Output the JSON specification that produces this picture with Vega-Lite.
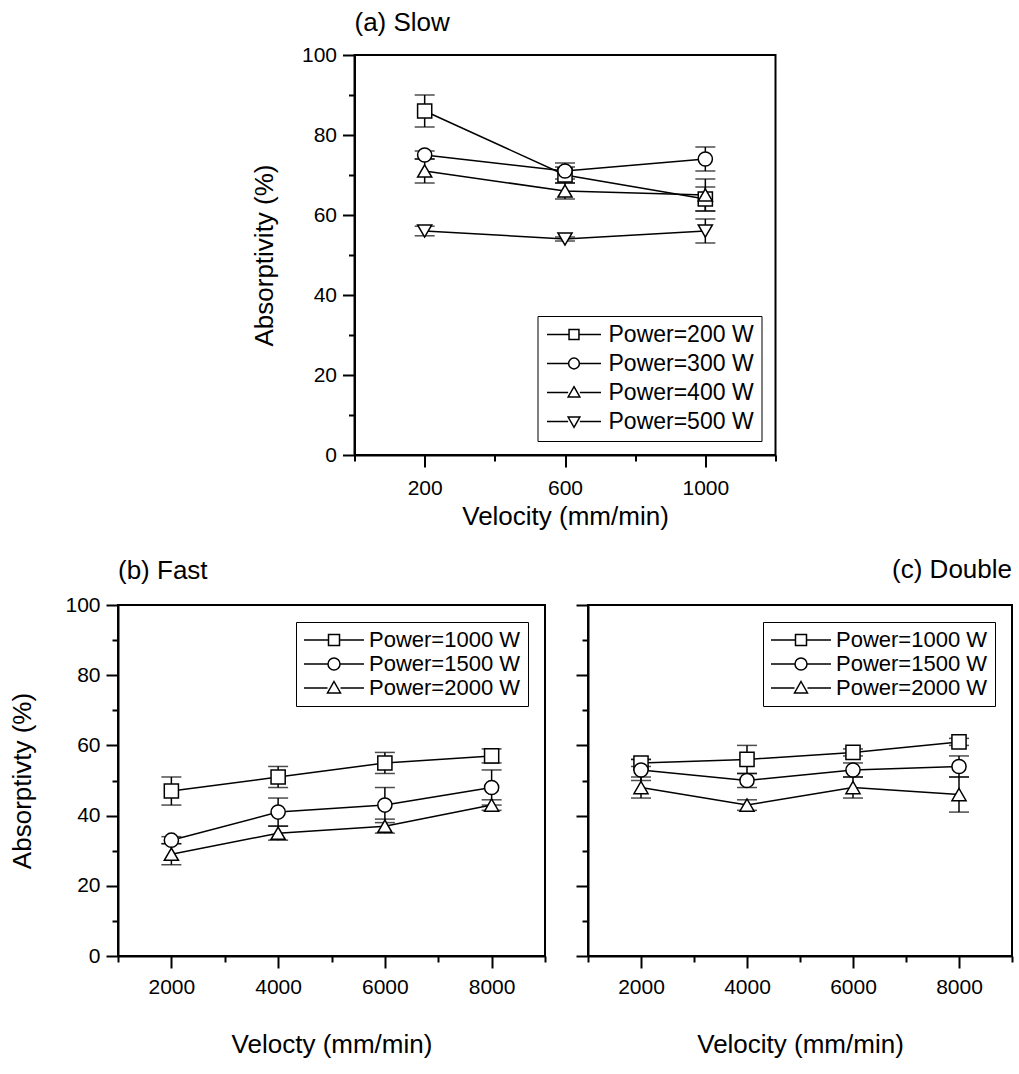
{
  "$schema": "https://vega.github.io/schema/vega-lite/v6.json",
  "background": "white",
  "padding": {"left": 8, "top": 9, "right": 5, "bottom": 5},
  "config": {
    "font": "Liberation Sans",
    "view": {"stroke": "black", "strokeWidth": 2},
    "mark": {"color": "black"},
    "axis": {"domainColor": "black", "domainWidth": 2, "tickColor": "black", "tickWidth": 2, "labelColor": "black", "titleColor": "black", "labelFontSize": 21, "titleFontSize": 26, "titleFontWeight": "normal", "grid": false, "labelFont": "Liberation Sans", "titleFont": "Liberation Sans", "format": "d"},
    "title": {"fontSize": 26, "fontWeight": "normal", "color": "black", "font": "Liberation Sans"},
    "legend": {"strokeColor": "black", "fillColor": "white", "labelColor": "black", "labelFont": "Liberation Sans", "symbolOpacity": 1, "symbolFillColor": "white", "symbolStrokeColor": "black", "symbolStrokeWidth": 1.5}
  },
  "datasets": {
    "slow": [
      {"series": "Power=200 W", "velocity": 200, "absorptivity": 86, "error": 4},
      {"series": "Power=200 W", "velocity": 600, "absorptivity": 70, "error": 2},
      {"series": "Power=200 W", "velocity": 1000, "absorptivity": 64, "error": 3},
      {"series": "Power=300 W", "velocity": 200, "absorptivity": 75, "error": 1},
      {"series": "Power=300 W", "velocity": 600, "absorptivity": 71, "error": 2},
      {"series": "Power=300 W", "velocity": 1000, "absorptivity": 74, "error": 3},
      {"series": "Power=400 W", "velocity": 200, "absorptivity": 71, "error": 3},
      {"series": "Power=400 W", "velocity": 600, "absorptivity": 66, "error": 2},
      {"series": "Power=400 W", "velocity": 1000, "absorptivity": 65, "error": 4},
      {"series": "Power=500 W", "velocity": 200, "absorptivity": 56, "error": 1.2},
      {"series": "Power=500 W", "velocity": 600, "absorptivity": 54, "error": 0.5},
      {"series": "Power=500 W", "velocity": 1000, "absorptivity": 56, "error": 3}
    ],
    "fast": [
      {"series": "Power=1000 W", "velocity": 2000, "absorptivity": 47, "error": 4},
      {"series": "Power=1000 W", "velocity": 4000, "absorptivity": 51, "error": 3},
      {"series": "Power=1000 W", "velocity": 6000, "absorptivity": 55, "error": 3},
      {"series": "Power=1000 W", "velocity": 8000, "absorptivity": 57, "error": 2},
      {"series": "Power=1500 W", "velocity": 2000, "absorptivity": 33, "error": 1},
      {"series": "Power=1500 W", "velocity": 4000, "absorptivity": 41, "error": 4},
      {"series": "Power=1500 W", "velocity": 6000, "absorptivity": 43, "error": 5},
      {"series": "Power=1500 W", "velocity": 8000, "absorptivity": 48, "error": 5},
      {"series": "Power=2000 W", "velocity": 2000, "absorptivity": 29, "error": 3},
      {"series": "Power=2000 W", "velocity": 4000, "absorptivity": 35, "error": 2},
      {"series": "Power=2000 W", "velocity": 6000, "absorptivity": 37, "error": 2},
      {"series": "Power=2000 W", "velocity": 8000, "absorptivity": 43, "error": 1.5}
    ],
    "double": [
      {"series": "Power=1000 W", "velocity": 2000, "absorptivity": 55, "error": 1},
      {"series": "Power=1000 W", "velocity": 4000, "absorptivity": 56, "error": 4},
      {"series": "Power=1000 W", "velocity": 6000, "absorptivity": 58, "error": 1},
      {"series": "Power=1000 W", "velocity": 8000, "absorptivity": 61, "error": 1},
      {"series": "Power=1500 W", "velocity": 2000, "absorptivity": 53, "error": 3},
      {"series": "Power=1500 W", "velocity": 4000, "absorptivity": 50, "error": 2},
      {"series": "Power=1500 W", "velocity": 6000, "absorptivity": 53, "error": 2},
      {"series": "Power=1500 W", "velocity": 8000, "absorptivity": 54, "error": 3},
      {"series": "Power=2000 W", "velocity": 2000, "absorptivity": 48, "error": 3},
      {"series": "Power=2000 W", "velocity": 4000, "absorptivity": 43, "error": 1.5},
      {"series": "Power=2000 W", "velocity": 6000, "absorptivity": 48, "error": 3},
      {"series": "Power=2000 W", "velocity": 8000, "absorptivity": 46, "error": 5}
    ]
  },
  "center": true,
  "spacing": 26,
  "resolve": {"scale": {"shape": "independent"}, "legend": {"shape": "independent"}},
  "vconcat": [
    {
      "title": {"text": "(a) Slow", "anchor": "start", "frame": "group", "offset": 8},
      "width": 421,
      "height": 400,
      "data": {"name": "slow"},
      "encoding": {
        "x": {"field": "velocity", "type": "quantitative", "scale": {"domain": [0, 1200], "nice": false, "zero": false},
          "axis": {"title": "Velocity (mm/min)", "values": [0, 200, 400, 600, 800, 1000, 1200], "labelExpr": "datum.value % 400 === 200 ? datum.label : ''", "tickSize": {"condition": {"test": "datum.value % 400 !== 200", "value": 6}, "value": 12}, "labelPadding": 10, "titlePadding": 5}},
        "y": {"field": "absorptivity", "type": "quantitative", "scale": {"domain": [0, 100], "nice": false},
          "axis": {"title": "Absorptivity (%)", "values": [0, 10, 20, 30, 40, 50, 60, 70, 80, 90, 100], "labelExpr": "datum.value % 20 === 0 ? datum.label : ''", "tickSize": {"condition": {"test": "datum.value % 20 !== 0", "value": 6}, "value": 12}, "labelPadding": 6, "titlePadding": 24}}
      },
      "layer": [
        {"mark": {"type": "errorbar", "ticks": {"size": 20, "thickness": 1.5, "color": "black"}, "rule": {"strokeWidth": 1.5, "color": "black"}},
         "encoding": {"yError": {"field": "error"}, "detail": {"field": "series"}}},
        {"mark": {"type": "line", "color": "black", "strokeWidth": 1.5},
         "encoding": {"detail": {"field": "series"}}},
        {"mark": {"type": "point", "filled": false, "fill": "white", "stroke": "black", "strokeWidth": 1.5, "size": 200, "opacity": 1},
         "encoding": {"shape": {"field": "series", "type": "nominal", "legend": null,
           "scale": {"domain": ["Power=200 W", "Power=300 W", "Power=400 W", "Power=500 W"], "range": ["square", "circle", "triangle-up", "triangle-down"]}}}},
        {"mark": {"type": "point", "filled": false, "stroke": "black", "strokeWidth": 1.5, "size": 324, "opacity": 0},
         "encoding": {"shape": {"field": "series", "type": "nominal",
           "scale": {"domain": ["Power=200 W", "Power=300 W", "Power=400 W", "Power=500 W"], "range": ["M-1,0H1.45M2.55,0H5M1.45,-0.55H2.55V0.55H1.45Z", "M-1,0H1.4M2.6,0H5M1.4,0A0.6,0.6 0 1,0 2.6,0A0.6,0.6 0 1,0 1.4,0Z", "M-1,0H1.35M2.65,0H5M2,-0.65L2.65,0.5H1.35Z", "M-1,0H1.35M2.65,0H5M2,0.65L2.65,-0.5H1.35Z"]},
           "legend": {"title": null, "orient": "bottom-right", "offset": 14, "padding": 7, "labelFontSize": 23, "labelOffset": 41, "symbolSize": 324, "rowPadding": 5}}}}
      ],
      "resolve": {"scale": {"shape": "independent"}}
    },
    {
      "spacing": 27,
      "resolve": {"scale": {"shape": "independent"}, "legend": {"shape": "independent"}},
      "hconcat": [
        {
          "title": {"text": "(b) Fast", "anchor": "start", "frame": "group", "offset": 10},
          "width": 427,
          "height": 351,
          "data": {"name": "fast"},
          "encoding": {
            "x": {"field": "velocity", "type": "quantitative", "scale": {"domain": [1000, 9000], "nice": false, "zero": false},
              "axis": {"title": "Velocty (mm/min)", "values": [1000, 2000, 3000, 4000, 5000, 6000, 7000, 8000, 9000], "labelExpr": "datum.value % 2000 === 0 ? datum.label : ''", "tickSize": {"condition": {"test": "datum.value % 2000 !== 0", "value": 6}, "value": 12}, "labelPadding": 8, "titlePadding": 34}},
            "y": {"field": "absorptivity", "type": "quantitative", "scale": {"domain": [0, 100], "nice": false},
              "axis": {"title": "Absorptivty (%)", "values": [0, 10, 20, 30, 40, 50, 60, 70, 80, 90, 100], "labelExpr": "datum.value % 20 === 0 ? datum.label : ''", "tickSize": {"condition": {"test": "datum.value % 20 !== 0", "value": 6}, "value": 12}, "labelPadding": 6, "titlePadding": 29}}
          },
          "layer": [
            {"mark": {"type": "errorbar", "ticks": {"size": 20, "thickness": 1.5, "color": "black"}, "rule": {"strokeWidth": 1.5, "color": "black"}},
             "encoding": {"yError": {"field": "error"}, "detail": {"field": "series"}}},
            {"mark": {"type": "line", "color": "black", "strokeWidth": 1.5},
             "encoding": {"detail": {"field": "series"}}},
            {"mark": {"type": "point", "filled": false, "fill": "white", "stroke": "black", "strokeWidth": 1.5, "size": 200, "opacity": 1},
             "encoding": {"shape": {"field": "series", "type": "nominal", "legend": null,
               "scale": {"domain": ["Power=1000 W", "Power=1500 W", "Power=2000 W"], "range": ["square", "circle", "triangle-up"]}}}},
            {"mark": {"type": "point", "filled": false, "stroke": "black", "strokeWidth": 1.5, "size": 400, "opacity": 0},
             "encoding": {"shape": {"field": "series", "type": "nominal",
               "scale": {"domain": ["Power=1000 W", "Power=1500 W", "Power=2000 W"], "range": ["M-1,0H1.45M2.55,0H5M1.45,-0.55H2.55V0.55H1.45Z", "M-1,0H1.4M2.6,0H5M1.4,0A0.6,0.6 0 1,0 2.6,0A0.6,0.6 0 1,0 1.4,0Z", "M-1,0H1.35M2.65,0H5M2,-0.65L2.65,0.5H1.35Z"]},
               "legend": {"title": null, "orient": "top-right", "offset": 17, "padding": 7, "labelFontSize": 22, "labelOffset": 44, "symbolSize": 400, "rowPadding": 2}}}}
          ],
          "resolve": {"scale": {"shape": "independent"}}
        },
        {
          "title": {"text": "(c) Double", "anchor": "end", "frame": "group", "offset": 21},
          "width": 424,
          "height": 351,
          "data": {"name": "double"},
          "encoding": {
            "x": {"field": "velocity", "type": "quantitative", "scale": {"domain": [1000, 9000], "nice": false, "zero": false},
              "axis": {"title": "Velocity (mm/min)", "values": [1000, 2000, 3000, 4000, 5000, 6000, 7000, 8000, 9000], "labelExpr": "datum.value % 2000 === 0 ? datum.label : ''", "tickSize": {"condition": {"test": "datum.value % 2000 !== 0", "value": 6}, "value": 12}, "labelPadding": 8, "titlePadding": 34}},
            "y": {"field": "absorptivity", "type": "quantitative", "scale": {"domain": [0, 100], "nice": false},
              "axis": {"title": null, "labels": false, "values": [0, 10, 20, 30, 40, 50, 60, 70, 80, 90, 100], "tickSize": {"condition": {"test": "datum.value % 20 !== 0", "value": 6}, "value": 12}}}
          },
          "layer": [
            {"mark": {"type": "errorbar", "ticks": {"size": 20, "thickness": 1.5, "color": "black"}, "rule": {"strokeWidth": 1.5, "color": "black"}},
             "encoding": {"yError": {"field": "error"}, "detail": {"field": "series"}}},
            {"mark": {"type": "line", "color": "black", "strokeWidth": 1.5},
             "encoding": {"detail": {"field": "series"}}},
            {"mark": {"type": "point", "filled": false, "fill": "white", "stroke": "black", "strokeWidth": 1.5, "size": 200, "opacity": 1},
             "encoding": {"shape": {"field": "series", "type": "nominal", "legend": null,
               "scale": {"domain": ["Power=1000 W", "Power=1500 W", "Power=2000 W"], "range": ["square", "circle", "triangle-up"]}}}},
            {"mark": {"type": "point", "filled": false, "stroke": "black", "strokeWidth": 1.5, "size": 400, "opacity": 0},
             "encoding": {"shape": {"field": "series", "type": "nominal",
               "scale": {"domain": ["Power=1000 W", "Power=1500 W", "Power=2000 W"], "range": ["M-1,0H1.45M2.55,0H5M1.45,-0.55H2.55V0.55H1.45Z", "M-1,0H1.4M2.6,0H5M1.4,0A0.6,0.6 0 1,0 2.6,0A0.6,0.6 0 1,0 1.4,0Z", "M-1,0H1.35M2.65,0H5M2,-0.65L2.65,0.5H1.35Z"]},
               "legend": {"title": null, "orient": "top-right", "offset": 17, "padding": 7, "labelFontSize": 22, "labelOffset": 44, "symbolSize": 400, "rowPadding": 2}}}}
          ],
          "resolve": {"scale": {"shape": "independent"}}
        }
      ]
    }
  ]
}
